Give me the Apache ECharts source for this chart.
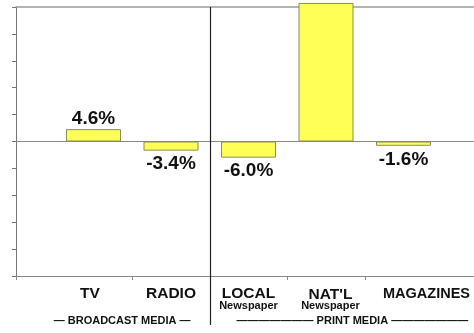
<!DOCTYPE html>
<html>
<head>
<meta charset="utf-8">
<script src="https://cdn.jsdelivr.net/npm/echarts@6/dist/echarts.min.js"></script>
<style>html,body{margin:0;padding:0;background:#fff;}#c{width:474px;height:333px;}</style>
</head>
<body>
<div id="c"></div>
<script>
const categories = ['TV', 'RADIO', 'LOCAL', "NAT'L", 'MAGAZINES'];
const subLabels = ['', '', 'Newspaper', 'Newspaper', ''];
const positions = [1, 2, 3, 4, 5];
const changes = [4.6, -3.4, -6.0, 51.5, -1.6];
const tickPositions = [0, 1.5, 2.5, 3.5, 4.5];
const dividerAt = 2.5;
const groupLabels = ['\u2014 BROADCAST MEDIA \u2014', '\u2014\u2014\u2014\u2014\u2014\u2014\u2014 PRINT MEDIA \u2014\u2014\u2014\u2014\u2014\u2014\u2014'];

const FONT = '"Liberation Sans", Arial, Helvetica, sans-serif';
const chart = echarts.init(document.getElementById('c'));

const labelShift = { 'TV': 'l', 'RADIO': '', 'LOCAL': '', "NAT'L": 'r1', 'MAGAZINES': 'r2' };

function labelFormatter(v) {
  const i = positions.indexOf(v);
  if (i < 0) return '';
  const name = categories[i];
  const s = labelShift[name];
  const key = s === 'l' ? 'al' : s === 'r1' ? 'ar1' : s === 'r2' ? 'ar2' : 'a';
  let t = '{' + key + '|' + name + '}';
  if (subLabels[i]) t += '\n{' + (s === 'r1' ? 'br1' : 'b') + '|' + subLabels[i] + '}';
  return t;
}
const richStyles = {
  a: { fontSize: 15.5, fontWeight: 'bold', color: '#111', fontFamily: FONT, lineHeight: 15 },
  al: { fontSize: 15.5, fontWeight: 'bold', color: '#111', fontFamily: FONT, lineHeight: 15, padding: [0, 7, 0, 0] },
  ar1: { fontSize: 15.5, fontWeight: 'bold', color: '#111', fontFamily: FONT, lineHeight: 15, padding: [2, 0, 0, 9] },
  ar2: { fontSize: 14.5, fontWeight: 'bold', color: '#111', fontFamily: FONT, lineHeight: 15, padding: [0, 0, 0, 46] },
  b: { fontSize: 11, fontWeight: 'bold', color: '#111', fontFamily: FONT, lineHeight: 10 },
  br1: { fontSize: 11, fontWeight: 'bold', color: '#111', fontFamily: FONT, lineHeight: 10, padding: [0, 0, 0, 9] }
};

const option = {
  animation: false,
  backgroundColor: '#fff',
  grid: { left: 16, top: 7, bottom: 57, right: -7, outerBoundsMode: 'none', containLabel: false },
  xAxis: [{
    type: 'value', min: 0, max: 6, position: 'bottom',
    splitLine: { show: false },
    axisLine: { show: true, onZero: false, lineStyle: { color: '#888', width: 1 } },
    axisTick: { show: true, customValues: tickPositions, length: 4, lineStyle: { color: '#888' } },
    axisLabel: {
      customValues: positions.slice(0, 4), margin: 10, hideOverlap: false,
      showMinLabel: true, showMaxLabel: true,
      formatter: labelFormatter, rich: richStyles
    }
  }, {
    type: 'value', min: 0, max: 6, position: 'bottom',
    splitLine: { show: false },
    axisLine: { show: false, onZero: false },
    axisTick: { show: false },
    axisLabel: {
      customValues: positions.slice(4), margin: 10, hideOverlap: false,
      showMinLabel: true, showMaxLabel: true,
      formatter: labelFormatter, rich: richStyles
    }
  }, {
    type: 'value', min: 0, max: 6, position: 'bottom',
    splitLine: { show: false },
    axisLine: { show: true, onZero: true, lineStyle: { color: '#888', width: 1 } },
    axisTick: { show: false }, axisLabel: { show: false }
  }, {
    type: 'value', min: 0, max: 6, position: 'top',
    splitLine: { show: false },
    axisLine: { show: true, onZero: false, lineStyle: { color: '#9a9a9a', width: 1.5 } },
    axisTick: { show: false }, axisLabel: { show: false }
  }],
  yAxis: {
    type: 'value', min: -50, max: 50, interval: 10,
    splitLine: { show: false },
    axisLine: { show: true, onZero: false, lineStyle: { color: '#777', width: 1 } },
    axisTick: { show: true, inside: false, length: 4, lineStyle: { color: '#777' } },
    axisLabel: { show: false }
  },
  series: [{
    type: 'bar',
    xAxisIndex: 0,
    clip: false,
    barWidth: 55,
    data: changes.map(function (v, i) {
      return {
        value: [positions[i], v],
        label: { position: v >= 0 ? 'top' : 'bottom', distance: v >= 0 ? 1 : 4 }
      };
    }),
    itemStyle: { color: '#ffff55', borderColor: '#8c8c5a', borderWidth: 1 },
    label: {
      show: true,
      fontFamily: FONT, fontSize: 19, fontWeight: 'bold', color: '#111',
      formatter: function (p) { return p.value[1].toFixed(1) + '%'; }
    }
  }]
};
chart.setOption(option);

const divX = chart.convertToPixel({ xAxisIndex: 0 }, dividerAt);
const topY = chart.convertToPixel({ yAxisIndex: 0 }, 50);
const botY = chart.convertToPixel({ yAxisIndex: 0 }, -50);
chart.setOption({
  graphic: [
    { type: 'line', shape: { x1: Math.round(divX) + 0.5, y1: topY, x2: Math.round(divX) + 0.5, y2: botY + 49 }, style: { stroke: '#222', lineWidth: 1.2 }, z: 100 },
    { type: 'text', x: chart.convertToPixel({ xAxisIndex: 0 }, 1.37), y: botY + 45, style: { text: groupLabels[0], fontFamily: FONT, fontSize: 11, fontWeight: 'bold', fill: '#111', align: 'center', verticalAlign: 'middle' }, z: 100 },
    { type: 'text', x: chart.convertToPixel({ xAxisIndex: 0 }, 4.34), y: botY + 45, style: { text: groupLabels[1], fontFamily: FONT, fontSize: 11, fontWeight: 'bold', fill: '#111', align: 'center', verticalAlign: 'middle' }, z: 100 }
  ]
});
</script>
</body>
</html>
